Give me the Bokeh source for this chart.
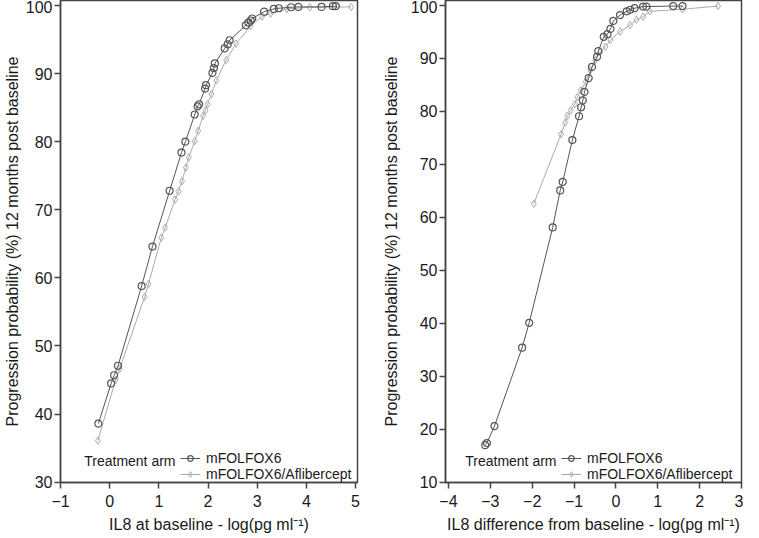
from bokeh.plotting import figure
from bokeh.layouts import row
from bokeh.models import Range1d, FixedTicker, Legend, LegendItem, Label, CustomJSTickFormatter
from bokeh.embed import file_html
from bokeh.resources import INLINE

# ---- data ----
# Panel A: IL8 at baseline
base_x_folfox = [-0.23, 0.03, 0.09, 0.17, 0.65, 0.87, 1.22, 1.46, 1.54, 1.73, 1.79, 1.82, 1.94, 1.96,
                 2.09, 2.12, 2.14, 2.34, 2.40, 2.44, 2.77, 2.82, 2.87, 2.90, 3.14, 3.34, 3.44, 3.69,
                 3.84, 4.31, 4.54, 4.60]
base_y_folfox = [38.6, 44.5, 45.7, 47.1, 58.8, 64.6, 72.8, 78.4, 80.0, 84.0, 85.2, 85.5, 87.8, 88.3,
                 90.1, 90.8, 91.5, 93.7, 94.3, 94.9, 97.1, 97.5, 97.8, 98.1, 99.1, 99.5, 99.6, 99.75,
                 99.8, 99.8, 99.9, 99.9]
base_x_afl = [-0.24, 0.12, 0.20, 0.71, 0.79, 1.05, 1.13, 1.33, 1.40, 1.47, 1.55, 1.61, 1.73, 1.80,
              1.90, 1.95, 1.99, 2.07, 2.17, 2.37, 2.57, 2.87, 3.10, 3.27, 3.60, 4.07, 4.91]
base_y_afl = [36.1, 45.0, 46.6, 57.2, 59.1, 65.9, 67.4, 71.5, 72.7, 74.2, 76.2, 77.7, 80.1, 81.6,
              83.8, 84.6, 85.5, 87.0, 89.0, 92.0, 94.4, 97.0, 98.4, 98.8, 99.5, 99.75, 99.8]

# Panel B: IL8 difference from baseline
diff_x_folfox = [-3.12, -3.08, -2.90, -2.24, -2.07, -1.51, -1.33, -1.27, -1.04, -0.88, -0.83, -0.79,
                 -0.75, -0.65, -0.57, -0.45, -0.42, -0.29, -0.20, -0.13, -0.06, 0.10, 0.26, 0.34,
                 0.45, 0.65, 0.73, 1.37, 1.59]
diff_y_folfox = [17.0, 17.4, 20.6, 35.4, 40.1, 58.1, 65.1, 66.7, 74.6, 79.1, 80.8, 82.1,
                 83.7, 86.3, 88.4, 90.3, 91.4, 94.1, 94.6, 95.6, 97.1, 98.2, 98.9, 99.2,
                 99.5, 99.8, 99.8, 99.9, 99.9]
diff_x_afl = [-1.96, -1.31, -1.21, -1.16, -1.08, -0.98, -0.92, -0.84, -0.72, -0.61, -0.49, -0.37,
              -0.25, -0.13, 0.10, 0.34, 0.49, 0.65, 0.81, 1.59, 2.44]
diff_y_afl = [62.6, 75.7, 77.9, 79.2, 80.2, 81.4, 82.7, 84.0, 85.6, 87.8, 89.7, 91.3,
              92.2, 93.5, 95.1, 96.3, 97.3, 97.9, 98.9, 99.3, 99.9]

series_names = ["mFOLFOX6", "mFOLFOX6/Aflibercept"]
legend_title = "Treatment arm"
y_title = "Progression probability (%) 12 months post baseline"
x_title_a = "IL8 at baseline - log(pg ml\u207b\u00b9)"
x_title_b = "IL8 difference from baseline - log(pg ml\u207b\u00b9)"
xticks_a = [-1, 0, 1, 2, 3, 4, 5]
yticks_a = [30, 40, 50, 60, 70, 80, 90, 100]
xticks_b = [-4, -3, -2, -1, 0, 1, 2, 3]
yticks_b = [10, 20, 30, 40, 50, 60, 70, 80, 90, 100]

DARK = "#555555"
LIGHT = "#ababab"
FRAME = "#444444"
FONT = "Liberation Sans"
TXT = "#1a1a1a"

minus_fmt = CustomJSTickFormatter(code="return tick < 0 ? '\\u2212' + Math.abs(tick) : '' + tick;")


def make_panel(w, h, xr, yr, xt, yt, xlab, data, bl, br, lstand, leg_x):
    p = figure(width=w, height=h, x_range=Range1d(*xr), y_range=Range1d(*yr),
               output_backend="svg", toolbar_location=None,
               min_border_left=bl, min_border_right=br, min_border_top=0, min_border_bottom=10)
    p.grid.visible = False
    p.outline_line_color = FRAME
    p.outline_line_width = 1.5
    p.background_fill_color = "white"
    p.border_fill_color = "white"
    for ax in (p.xaxis[0], p.yaxis[0]):
        ax.axis_line_color = FRAME
        ax.axis_line_width = 1.5
        ax.major_tick_line_color = FRAME
        ax.major_tick_line_width = 1.5
        ax.major_tick_in = 0
        ax.major_tick_out = 6
        ax.minor_tick_line_color = None
        ax.major_label_text_font = FONT
        ax.major_label_text_font_size = "16px"
        ax.major_label_text_color = TXT
        ax.axis_label_text_font = FONT
        ax.axis_label_text_font_size = "16px"
        ax.axis_label_text_font_style = "normal"
        ax.axis_label_text_color = TXT
        ax.formatter = minus_fmt
    p.xaxis[0].major_label_standoff = 6
    p.yaxis[0].major_label_standoff = 2
    p.xaxis[0].ticker = FixedTicker(ticks=xt)
    p.yaxis[0].ticker = FixedTicker(ticks=yt)
    p.xaxis[0].axis_label = xlab
    p.xaxis[0].axis_label_standoff = 6
    p.yaxis[0].axis_label = y_title
    p.yaxis[0].axis_label_standoff = lstand

    (xa, ya), (xb, yb) = data
    lb = p.line(xb, yb, line_color=LIGHT, line_width=1)
    sb = p.scatter(xb, yb, marker="diamond", size=7.5, line_color=LIGHT, fill_color=None, line_width=1)
    la = p.line(xa, ya, line_color=DARK, line_width=1)
    sa = p.scatter(xa, ya, marker="circle", size=7, line_color=DARK, fill_color=None, line_width=1.2)

    leg = Legend(items=[LegendItem(label=series_names[0], renderers=[la, sa]),
                        LegendItem(label=series_names[1], renderers=[lb, sb])],
                 location=(leg_x, 0), orientation="vertical",
                 border_line_color=None, background_fill_alpha=0,
                 padding=0, margin=0, spacing=-4,
                 glyph_width=20, glyph_height=14, label_height=14, label_standoff=6,
                 label_text_font=FONT, label_text_font_size="14px", label_text_color=TXT,
                 label_text_baseline="middle")
    p.add_layout(leg, "center")
    p.add_layout(Label(x=leg_x - 5, y=22, x_units="screen", y_units="screen", text=legend_title,
                       text_font=FONT, text_font_size="14px", text_color=TXT,
                       text_align="right", text_baseline="middle"))
    return p


p1 = make_panel(370, 535, (-1.0, 5.04), (29.95, 100.74), xticks_a, yticks_a, x_title_a,
                ((base_x_folfox, base_y_folfox), (base_x_afl, base_y_afl)), 55, 13, 2, 120)
p2 = make_panel(373, 535, (-4.07, 3.0), (9.95, 100.95), xticks_b, yticks_b, x_title_b,
                ((diff_x_folfox, diff_y_folfox), (diff_x_afl, diff_y_afl)), 75, 2, 8, 116)

layout = row(p1, p2)
open("out.html", "w").write(file_html(layout, INLINE))
